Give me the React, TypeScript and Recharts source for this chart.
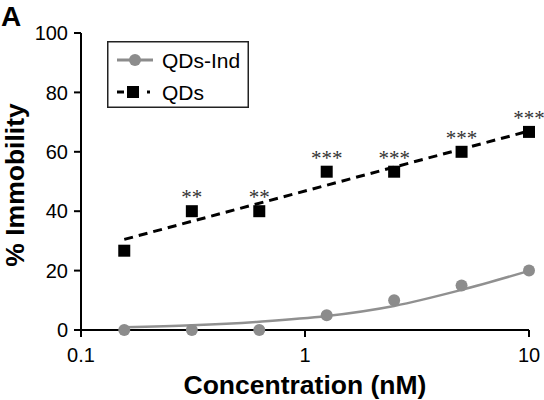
import React from 'react';
import { ComposedChart, Line, Scatter, XAxis, YAxis } from 'recharts';

const concentrations = [0.156, 0.3125, 0.625, 1.25, 2.5, 5, 10];
const qdsValues = [26.7, 40, 40, 53.3, 53.3, 60, 66.7];
const qdsIndValues = [0, 0, 0, 5, 10, 15, 20];
const significance = ['', '**', '**', '***', '***', '***', '***'];
const qdsFitX = [0.156, 10];
const qdsFitY = [30.5, 67];
const indFitX = [0.156, 0.3125, 0.625, 1.25, 2.5, 5, 10];
const indFitY = [0.9, 1.6, 2.8, 4.7, 8.1, 13.5, 19.9];
const xTicks = [0.1, 1, 10];
const yTicks = [0, 20, 40, 60, 80, 100];

const qdsData = concentrations.map((x, i) => ({ x, y: qdsValues[i], stars: significance[i] }));
const indData = concentrations.map((x, i) => ({ x, y: qdsIndValues[i] }));
const qdsFit = qdsFitX.map((x, i) => ({ x, y: qdsFitY[i] }));
const indFit = indFitX.map((x, i) => ({ x, y: indFitY[i] }));

const FONT = '"Liberation Sans", Arial, sans-serif';
const GRAY = '#8c8c8c';

const SquareShape = (props: any) => {
  const { cx, cy, payload } = props;
  return (
    <g>
      <rect x={cx - 6} y={cy - 6} width={12} height={12} fill="#000" />
      {payload && payload.stars ? (
        <text x={cx} y={cy - 7} textAnchor="middle" fontSize={21} fontFamily='"Liberation Serif", serif' fill="#333">
          {payload.stars}
        </text>
      ) : null}
    </g>
  );
};

const CircleShape = (props: any) => {
  const { cx, cy } = props;
  return <circle cx={cx} cy={cy} r={6} fill={GRAY} />;
};

const XTitle = (props: any) => {
  const vb = props.viewBox || { x: 81, width: 448 };
  return (
    <text x={vb.x + vb.width / 2} y={394} textAnchor="middle" fontSize={26.5} fontWeight="bold" fontFamily={FONT} fill="#000">
      Concentration (nM)
    </text>
  );
};

const YTitle = () => (
  <text x={24} y={185} transform="rotate(-90, 24, 185)" textAnchor="middle" fontSize={26.5} fontWeight="bold" fontFamily={FONT} fill="#000">
    % Immobility
  </text>
);

export default function App() {
  return (
    <div style={{ position: 'relative', width: 544, height: 400, background: '#fff', fontFamily: FONT }}>
      <style>{`body{margin:0;}`}</style>
      <ComposedChart width={544} height={400} margin={{ top: 33, right: 15, bottom: 40, left: 0 }}>
        <XAxis
          dataKey="x"
          type="number"
          scale="log"
          domain={[0.1, 10]}
          ticks={xTicks}
          tickFormatter={(v: number) => String(v)}
          height={30}
          axisLine={{ stroke: '#000', strokeWidth: 2 }}
          tickLine={{ stroke: '#000', strokeWidth: 2 }}
          tickSize={7}
          tickMargin={11}
          tick={{ fill: '#000', fontSize: 20, fontFamily: FONT }}
          label={<XTitle />}
        />
        <YAxis
          type="number"
          domain={[0, 100]}
          ticks={yTicks}
          width={81}
          axisLine={{ stroke: '#000', strokeWidth: 2 }}
          tickLine={{ stroke: '#000', strokeWidth: 2 }}
          tickSize={7}
          tickMargin={6}
          tick={{ fill: '#000', fontSize: 20, fontFamily: FONT }}
          label={<YTitle />}
        />
        <Line data={indFit} dataKey="y" type="monotone" stroke="#909090" strokeWidth={2.5} dot={false} isAnimationActive={false} />
        <Scatter data={indData} dataKey="y" shape={<CircleShape />} isAnimationActive={false} />
        <Line data={qdsFit} dataKey="y" type="linear" stroke="#000" strokeWidth={3} strokeDasharray="9 6" dot={false} isAnimationActive={false} />
        <Scatter data={qdsData} dataKey="y" shape={<SquareShape />} isAnimationActive={false} />
      </ComposedChart>
      <svg style={{ position: 'absolute', left: 0, top: 0 }} width={40} height={32}>
        <text x={1} y={25.5} fontSize={28} fontWeight="bold" fontFamily={FONT} fill="#000">A</text>
      </svg>
      <svg style={{ position: 'absolute', left: 107, top: 41 }} width={142} height={67}>
        <rect x={0.75} y={0.75} width={140.5} height={65.5} fill="#fff" stroke="#222" strokeWidth={1.5} />
        <line x1={10} y1={19} x2={46} y2={19} stroke={GRAY} strokeWidth={3} />
        <circle cx={28} cy={19} r={6} fill={GRAY} />
        <text x={55} y={26.5} fontSize={21} fontFamily={FONT} fill="#000">QDs-Ind</text>
        <line x1={10} y1={51} x2={17} y2={51} stroke="#000" strokeWidth={3} />
        <rect x={20} y={45} width={12} height={12} fill="#000" />
        <line x1={40} y1={51} x2={43} y2={51} stroke="#000" strokeWidth={3} />
        <text x={55} y={58.5} fontSize={21} fontFamily={FONT} fill="#000">QDs</text>
      </svg>
    </div>
  );
}
